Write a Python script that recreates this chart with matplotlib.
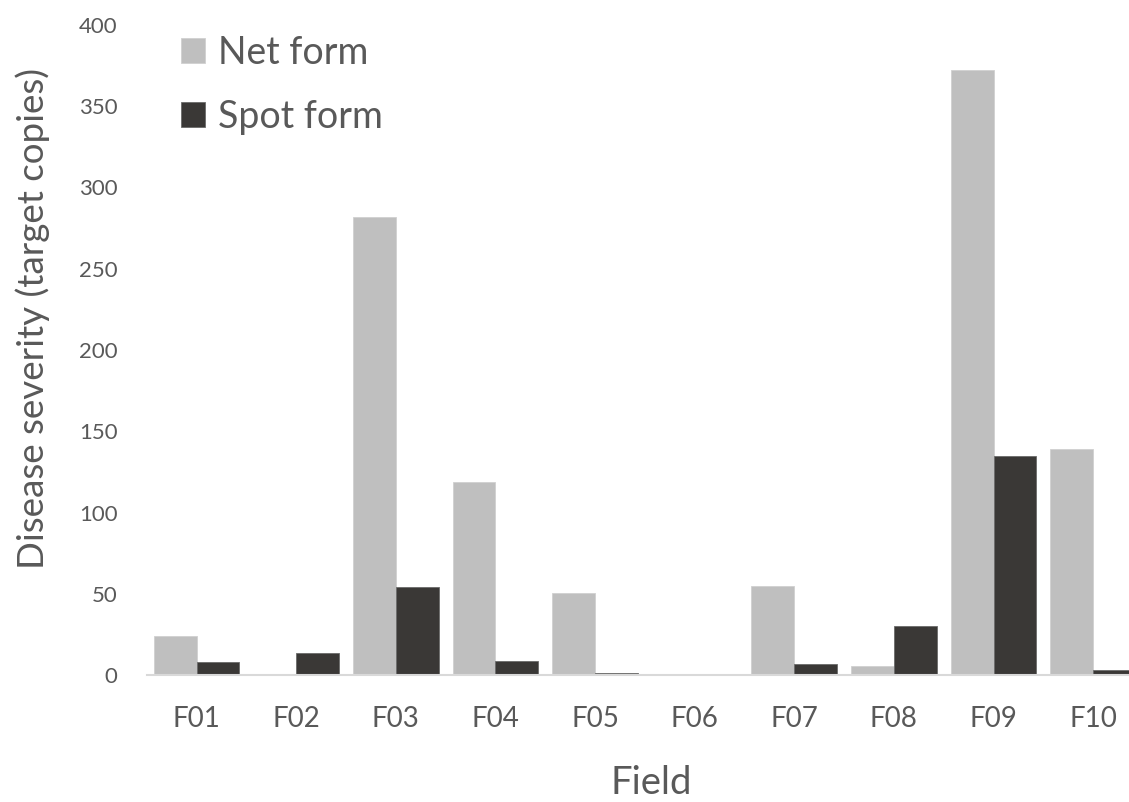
import matplotlib
matplotlib.use("Agg")
from matplotlib import pyplot as plt
import numpy as np

fields = ["F01", "F02", "F03", "F04", "F05", "F06", "F07", "F08", "F09", "F10"]
net_form = [24, 0, 282, 119, 50.5, 0, 55, 5.5, 372, 139]
spot_form = [8, 13.5, 54, 8.5, 1.2, 0, 7, 30.5, 135, 3]

gris_txt = "#595959"
plt.rcParams['font.family'] = ['Lato', 'DejaVu Sans']

fig = plt.figure(figsize=(11.29, 8.02), dpi=100)
ax = fig.add_axes([0.130, 0.158, 0.870, 0.811])

x = np.arange(len(fields))
ancho = 0.43
ax.bar(x - ancho / 2, net_form, ancho, color="#BFBFBF", edgecolor="#D0D0D0", linewidth=0.6, label="Net form")
ax.bar(x + ancho / 2, spot_form, ancho, color="#3A3836", edgecolor="#6A6A6A", linewidth=0.6, label="Spot form")

ax.set_xlim(-0.5, 9.36)
ax.set_ylim(0, 400)
ax.set_yticks(range(0, 401, 50))
ax.set_xticks(x)
ax.set_xticklabels(fields)

for lado in ("top", "right", "left"):
    ax.spines[lado].set_visible(False)
ax.spines["bottom"].set_color("#D9D9D9")
ax.spines["bottom"].set_linewidth(1.5)
ax.tick_params(axis="both", length=0, colors=gris_txt)
ax.tick_params(axis="y", pad=21, labelsize=16)
ax.tick_params(axis="x", pad=22, labelsize=20)

# titulos de ejes
ax.set_ylabel("Disease severity (target copies)", fontsize=26.5, color=gris_txt)
ax.yaxis.set_label_coords(-0.099, 0.549)
ax.set_xlabel("Field", fontsize=27.5, color=gris_txt)
ax.xaxis.label.set_va("baseline")
ax.xaxis.set_label_coords(0.514, -0.183)

ax.legend(loc="upper left", bbox_to_anchor=(181 / 1129, 1 - 35 / 802), bbox_transform=fig.transFigure,
          frameon=False, fontsize=27, labelcolor=gris_txt, handlelength=0.65, handleheight=0.65,
          handletextpad=0.35, labelspacing=0.75, borderpad=0, borderaxespad=0)

fig.savefig("out.png", dpi=100)
